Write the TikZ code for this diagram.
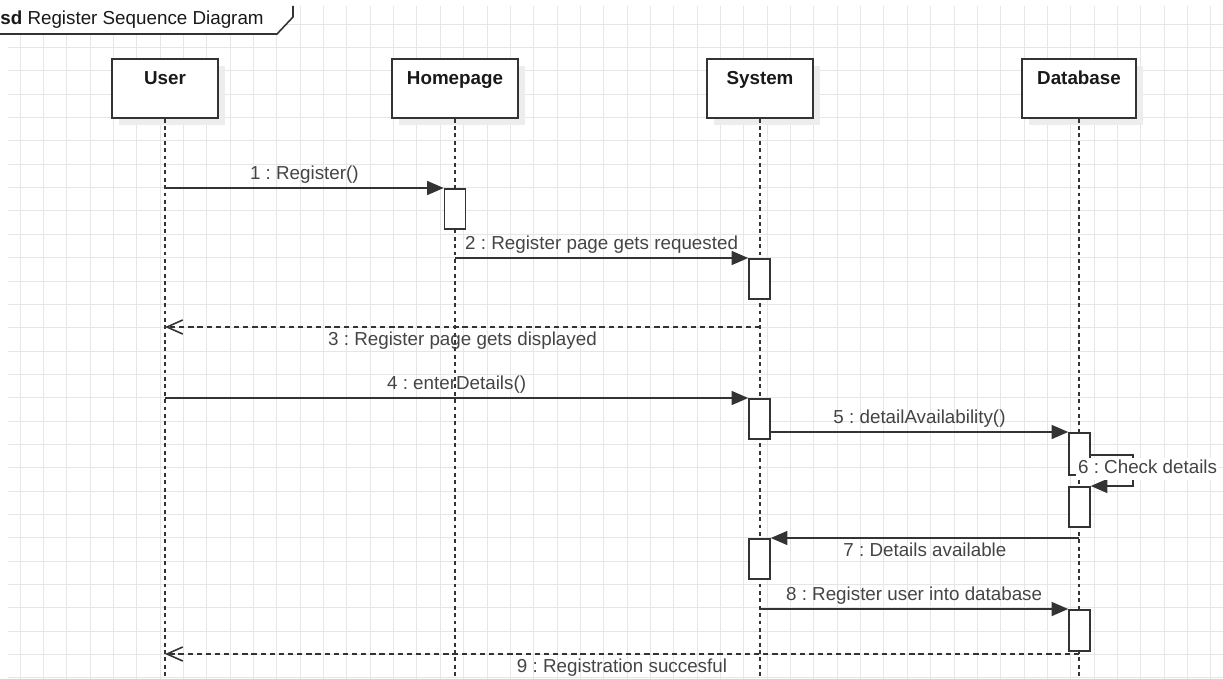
\documentclass[tikz,border=0pt]{standalone}
\usepackage{fontspec}
\setmainfont{Liberation Sans}
\frenchspacing
\usetikzlibrary{arrows.meta, shadows}
\definecolor{gridln}{HTML}{E6E6E6}
\definecolor{inkgray}{HTML}{333333}
\definecolor{txtgray}{HTML}{444444}
\definecolor{shade}{HTML}{EDEDED}

\begin{document}
\begin{tikzpicture}[
  x=0.02cm, y=-0.02cm,
  every node/.style={font=\fontsize{10.7}{12.8}\selectfont},
  head/.style={draw=inkgray, line width=0.9pt, fill=white, minimum width=#1,
    inner sep=0pt, text height=14.7pt, text depth=18.8pt,
    font=\fontsize{10.7}{12.8}\selectfont\bfseries, text=black!90,
    drop shadow={shadow xshift=4pt, shadow yshift=-4pt, fill=shade, opacity=1}},
  act/.style={draw=inkgray, line width=0.9pt, fill=white, minimum width=0.42cm,
    minimum height=#1, inner sep=0pt, anchor=north},
  life/.style={inkgray, line width=0.8pt, dash pattern=on 2.2pt off 2pt},
  msg/.style={-{Triangle[length=9.5pt, width=8pt]}, inkgray, line width=0.9pt},
  ret/.style={-{Straight Barb[length=9pt, width=8pt]}, inkgray,
    line width=0.9pt, dash pattern=on 3pt off 2.2pt},
  lbl/.style={text=txtgray, inner sep=2pt, text height=8pt, text depth=2.5pt},
  gridline/.style={gridln, line width=0.57pt},
]
\useasboundingbox (0,0) rectangle (1223,679);

% Grid
\foreach \gx in {0,...,51}
  \draw[gridline] ({round(19.5+23.35*\gx)+0.5},6) -- ({round(19.5+23.35*\gx)+0.5},679);
\foreach \gy in {1,...,29}
  \draw[gridline] (8,{round(0.3+23.35*\gy)+0.5}) -- (1223,{round(0.3+23.35*\gy)+0.5});

% Frame tab
\fill[white] (-5,6) -- (293,6) -- (293,17) -- (277,34) -- (-5,34) -- cycle;
\draw[inkgray, line width=0.9pt] (-5,34) -- (277,34) -- (293,17) -- (293,6);
\node[anchor=base west, inner sep=0pt, text=black!90] (sd) at (0,25)
  {\textbf{sd} Register Sequence Diagram};

% =============================================
% Lifelines
% =============================================
\node[head=2.12cm] (user) at (165,88.5) {User};
\node[head=2.52cm] (home) at (455,88.5) {Homepage};
\node[head=2.12cm] (sys)  at (760,88.5) {System};
\node[head=2.28cm] (db)   at (1079,88.5) {Database};

\coordinate (bottom) at (0,679);
\draw[life] (user.south) -- (user.south |- bottom);
\draw[life] (home.south) -- (home.south |- bottom);
\draw[life] (sys.south) -- (sys.south |- bottom);
\draw[life] (db.south) -- (db.south |- bottom);

% Activation bars
\node[act=0.8cm]  (a1) at (455,188) {};
\node[act=0.8cm]  (a2) at (759.5,258) {};
\node[act=0.8cm]  (a3) at (759.5,398) {};
\node[act=0.84cm] (a4) at (1079.5,432) {};
\node[act=0.8cm]  (a5) at (1079.5,486) {};
\node[act=0.8cm]  (a6) at (759.5,538) {};
\node[act=0.82cm] (a7) at (1079.5,609) {};

% =============================================
% Messages
% =============================================
\draw[msg] (user |- a1.north) -- node[lbl, above] {1 : Register()} (a1.north west);
\draw[msg] (home |- a2.north) -- node[lbl, above] {2 : Register page gets requested} (a2.north west);

\coordinate (r3) at (sys |- 0,327);
\draw[ret] (r3) -- node[lbl, below] {3 : Register page gets displayed} (user |- r3);

\draw[msg] (user |- a3.north) -- node[lbl, above] {4 : enterDetails()} (a3.north west);
\draw[msg] (a3.east |- a4.north) -- node[lbl, above] {5 : detailAvailability()} (a4.north west);

% self call on Database
\coordinate (s6) at (1133,470);
\draw[msg] (a4.east |- 0,455) -- (s6 |- 0,455) -- (s6 |- a5.north) -- (a5.north east);
\node[lbl, fill=white, anchor=west, inner sep=1pt] (l6) at (1076,469) {6 : Check details};

\draw[msg] (db |- a6.north) -- node[lbl, below] {7 : Details available} (a6.north east);
\draw[msg] (sys |- a7.north) -- node[lbl, above] {8 : Register user into database} (a7.north west);

\coordinate (r9) at (db |- 0,654);
\draw[ret] (r9) -- node[lbl, below] {9 : Registration succesful} (user |- r9);

\end{tikzpicture}
\end{document}
